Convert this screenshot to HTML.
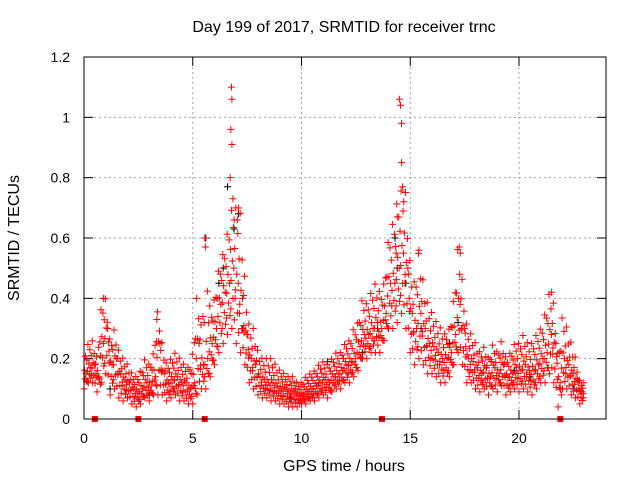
<!DOCTYPE html>
<html><head><meta charset="utf-8"><style>
body{margin:0;background:#fff;}
svg{display:block;font-family:"Liberation Sans",sans-serif;}
</style></head><body>
<svg id="chart" width="640" height="480">
<text x="344" y="32" font-size="16" text-anchor="middle">Day 199 of 2017, SRMTID for receiver trnc</text>
<text x="344" y="471" font-size="16" text-anchor="middle">GPS time / hours</text>
<text transform="translate(19,238) rotate(-90)" font-size="16" text-anchor="middle">SRMTID / TECUs</text>
<g id="grid"></g>
<g id="ticks"></g>
<g id="black"></g>
<g id="red"></g>
<rect x="84" y="57" width="522" height="362" fill="none" stroke="#000" stroke-width="1"/>
</svg>
<script>
const xTicks=[0,5,10,15,20];
const yTicks=[0,0.2,0.4,0.6,0.8,1,1.2];
const yTickLabels=["0","0.2","0.4","0.6","0.8","1","1.2"];
const times=[0,0.2,0.4,0.6,0.8,1,1.2,1.4,1.6,1.8,2,2.2,2.4,2.6,2.8,3,3.2,3.4,3.6,3.8,4,4.2,4.4,4.6,4.8,5,5.2,5.4,5.6,5.8,6,6.2,6.4,6.6,6.8,7,7.2,7.4,7.6,7.8,8,8.2,8.4,8.6,8.8,9,9.2,9.4,9.6,9.8,10,10.2,10.4,10.6,10.8,11,11.2,11.4,11.6,11.8,12,12.2,12.4,12.6,12.8,13,13.2,13.4,13.6,13.8,14,14.2,14.4,14.6,14.8,15,15.2,15.4,15.6,15.8,16,16.2,16.4,16.6,16.8,17,17.2,17.4,17.6,17.8,18,18.2,18.4,18.6,18.8,19,19.2,19.4,19.6,19.8,20,20.2,20.4,20.6,20.8,21,21.2,21.4,21.6,21.8,22,22.2,22.4,22.6,22.8];
const hiVals=[0.22,0.25,0.26,0.2,0.38,0.4,0.25,0.3,0.22,0.2,0.18,0.15,0.14,0.16,0.2,0.18,0.22,0.37,0.24,0.18,0.2,0.22,0.2,0.18,0.17,0.22,0.42,0.3,0.6,0.35,0.4,0.5,0.55,0.62,0.7,0.7,0.68,0.45,0.3,0.3,0.22,0.2,0.2,0.2,0.18,0.16,0.15,0.14,0.14,0.12,0.12,0.14,0.15,0.16,0.18,0.19,0.18,0.2,0.22,0.22,0.25,0.26,0.3,0.32,0.4,0.38,0.42,0.45,0.42,0.45,0.6,0.65,0.72,0.76,0.75,0.5,0.45,0.56,0.45,0.38,0.35,0.32,0.3,0.28,0.3,0.4,0.58,0.45,0.3,0.28,0.25,0.22,0.24,0.2,0.25,0.22,0.26,0.2,0.22,0.25,0.25,0.28,0.25,0.25,0.28,0.3,0.35,0.42,0.38,0.2,0.35,0.3,0.25,0.2,0.12];
const midVals=[0.15,0.17,0.18,0.14,0.25,0.3,0.18,0.2,0.15,0.13,0.12,0.1,0.09,0.1,0.12,0.11,0.14,0.25,0.15,0.12,0.13,0.14,0.12,0.12,0.1,0.12,0.25,0.18,0.2,0.25,0.3,0.38,0.42,0.45,0.5,0.45,0.4,0.28,0.2,0.18,0.14,0.13,0.12,0.12,0.11,0.1,0.1,0.09,0.09,0.08,0.08,0.09,0.1,0.11,0.12,0.13,0.12,0.14,0.15,0.16,0.18,0.19,0.2,0.24,0.28,0.28,0.3,0.32,0.3,0.35,0.45,0.45,0.5,0.55,0.5,0.35,0.3,0.35,0.3,0.25,0.24,0.22,0.2,0.2,0.22,0.28,0.38,0.3,0.2,0.19,0.17,0.15,0.17,0.14,0.17,0.15,0.18,0.14,0.15,0.17,0.16,0.18,0.16,0.16,0.18,0.2,0.22,0.28,0.25,0.12,0.2,0.18,0.15,0.13,0.09];
const loVals=[0.1,0.12,0.12,0.09,0.12,0.15,0.08,0.1,0.07,0.06,0.07,0.05,0.04,0.05,0.07,0.06,0.08,0.08,0.08,0.06,0.07,0.08,0.06,0.06,0.05,0.05,0.08,0.1,0.1,0.14,0.18,0.22,0.25,0.28,0.3,0.25,0.22,0.18,0.12,0.1,0.08,0.07,0.07,0.06,0.06,0.05,0.05,0.04,0.04,0.04,0.05,0.05,0.06,0.06,0.07,0.08,0.07,0.09,0.1,0.1,0.12,0.12,0.14,0.16,0.2,0.2,0.22,0.22,0.22,0.26,0.3,0.3,0.32,0.35,0.3,0.22,0.18,0.2,0.18,0.15,0.15,0.14,0.12,0.12,0.14,0.18,0.22,0.18,0.12,0.12,0.1,0.09,0.1,0.08,0.1,0.09,0.11,0.08,0.09,0.1,0.09,0.1,0.09,0.08,0.1,0.12,0.12,0.15,0.12,0.04,0.1,0.1,0.08,0.07,0.05];
const spikeTimes=[6.78,6.8,6.75,6.8,6.72,6.85,6.9,7.05,7.1,14.5,14.55,14.6,14.6,14.65,14.7,14.4,14.35,5.55,3.35,0.9,17.25,17.3,21.5,15.4];
const spikeVals=[1.1,1.06,0.96,0.91,0.8,0.73,0.66,0.66,0.7,1.06,1.04,0.98,0.85,0.77,0.72,0.67,0.55,0.6,0.33,0.4,0.57,0.55,0.42,0.56];
const blackTimes=[6.6,6.9,7.1,5.6,6.4,14.3,14.4,14.8,13.5,12.8,11.2,15.5,16.8,18.5,20.5,1.2,3.0,9.5,10.8,17.2,19.8,22.5,6.2,7.3];
const blackVals=[0.77,0.63,0.68,0.6,0.5,0.6,0.5,0.45,0.3,0.22,0.19,0.3,0.25,0.17,0.14,0.1,0.08,0.07,0.12,0.32,0.16,0.1,0.45,0.3];
const markerTimes=[0.5,2.5,5.55,13.7,21.9];

const NS="http://www.w3.org/2000/svg";
const X0=84,X1=606,Y0=419,Y1=57;
function xs(t){return X0+t/24*(X1-X0);}
function ys(v){return Y0-v/1.2*(Y0-Y1);}
function mk(tag,attrs,parent){const e=document.createElementNS(NS,tag);for(const k in attrs)e.setAttribute(k,attrs[k]);parent.appendChild(e);return e;}
const grid=document.getElementById('grid'),ticks=document.getElementById('ticks');
yTicks.forEach((v,i)=>{
  const y=ys(v);
  if(i>0&&i<yTicks.length-1){const g=mk('line',{x1:X0,x2:X1,y1:y,y2:y,stroke:'#a0a0a0','stroke-dasharray':'2,3'},grid);
  
  }
  mk('line',{x1:X0,x2:X0+9,y1:y,y2:y,stroke:'#000'},ticks);
  mk('line',{x1:X1,x2:X1-9,y1:y,y2:y,stroke:'#000'},ticks);
  const t=mk('text',{x:70,y:y+5,'font-size':14,'text-anchor':'end'},ticks);
  t.textContent=yTickLabels[i];
  
  
});
xTicks.forEach(v=>{
  const x=xs(v);
  if(v>0){const g=mk('line',{x1:x,x2:x,y1:Y0,y2:Y1,stroke:'#a0a0a0','stroke-dasharray':'2,3'},grid);
  
  }
  mk('line',{x1:x,x2:x,y1:Y0,y2:Y0-9,stroke:'#000'},ticks);
  mk('line',{x1:x,x2:x,y1:Y1,y2:Y1+9,stroke:'#000'},ticks);
  const t=mk('text',{x:x,y:443,'font-size':14,'text-anchor':'middle'},ticks);
  t.textContent=String(v);
  
  
});
function plus(g,t,v,col,name){
  const x=xs(t),y=ys(v);
  const p=mk('path',{d:`M${x-3.5},${y}h7M${x},${y-3.5}v7`,stroke:col,'stroke-width':1,fill:'none'},g);
  
  
}
const red=document.getElementById('red'),black=document.getElementById('black');
blackTimes.forEach((t,i)=>plus(black,t,blackVals[i],'#000','black-point'));
const fr=[0,0.14,0.28,0.42,0.57,0.71,0.85,1];
const dt=[0.0,0.11,0.05,0.16,0.02,0.13,0.07,0.18];
times.forEach((t,i)=>{
  const h=hiVals[i],m=midVals[i],l=loVals[i];
  const hn=i+1<times.length?hiVals[i+1]:h, mn=i+1<times.length?midVals[i+1]:m, ln=i+1<times.length?loVals[i+1]:l;
  fr.forEach((f,k)=>{
    const a=dt[k]/0.2;
    const hh=h+(hn-h)*a, mm=m+(mn-m)*a, ll=l+(ln-l)*a;
    const v=f<0.5?ll+(mm-ll)*f*2:mm+(hh-mm)*(f-0.5)*2;
    plus(red,t+dt[k],v,'#f00','red-point');
  });
  plus(red,t+0.09,m,'#f00','red-point');
  plus(red,t+0.15,(m+l)/2,'#f00','red-point');
});
spikeTimes.forEach((t,i)=>plus(red,t,spikeVals[i],'#f00','red-spike-point'));
markerTimes.forEach(t=>{
  const r=mk('rect',{x:xs(t)-3,y:Y0-3,width:6,height:6,fill:'#f00'},red);
  
  
});
</script>
</body></html>
